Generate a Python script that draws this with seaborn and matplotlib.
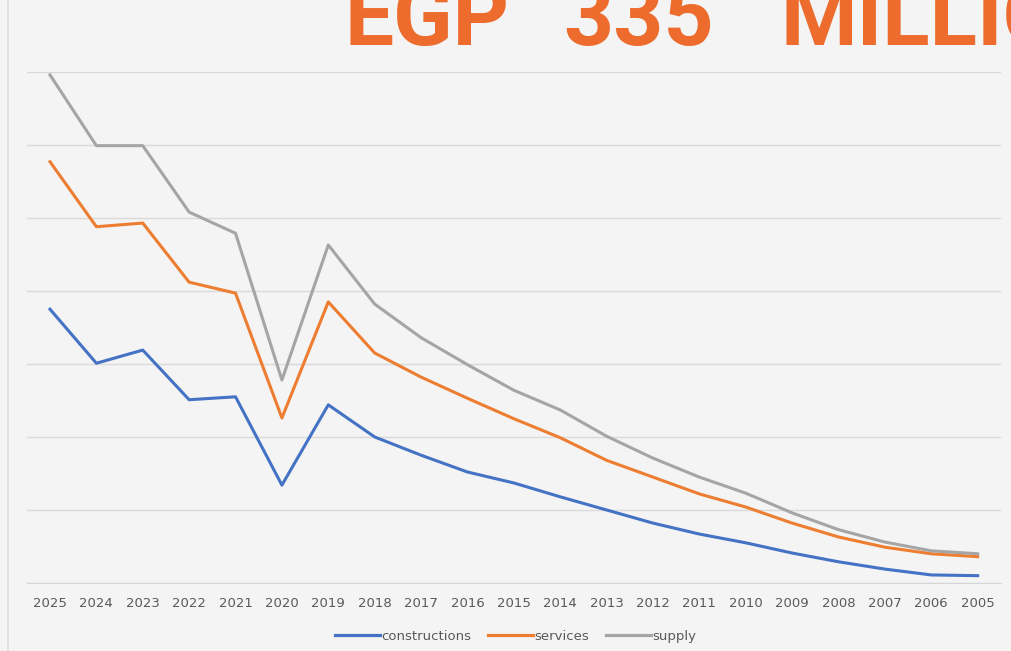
import matplotlib
matplotlib.use("Agg")
import matplotlib.pyplot as plt
import seaborn as sns
import pandas as pd
from matplotlib.lines import Line2D

# ------------------------------------------------------------- #
#                            DATOS                              #
# ------------------------------------------------------------- #

years = ["2025", "2024", "2023", "2022", "2021", "2020", "2019", "2018", "2017", "2016", "2015",
         "2014", "2013", "2012", "2011", "2010", "2009", "2008", "2007", "2006", "2005"]

constructions = [3.75, 3.01, 3.19, 2.51, 2.55, 1.34, 2.44, 2.00, 1.75, 1.52, 1.37,
                 1.18, 1.00, 0.82, 0.67, 0.55, 0.41, 0.29, 0.19, 0.11, 0.10]
services = [5.77, 4.88, 4.93, 4.12, 3.97, 2.26, 3.85, 3.15, 2.82, 2.53, 2.25,
            1.99, 1.68, 1.45, 1.22, 1.04, 0.82, 0.63, 0.49, 0.40, 0.36]
supply = [6.96, 5.99, 5.99, 5.08, 4.79, 2.78, 4.63, 3.82, 3.36, 2.99, 2.64,
          2.37, 2.01, 1.71, 1.45, 1.23, 0.96, 0.73, 0.56, 0.44, 0.40]

series_names = ["constructions", "services", "supply"]
series_colors = ["#4472C4", "#ED7D31", "#A5A5A5"]

# titulo (palabras separadas, con mucho espacio entre ellas)
title_words = ["EGP", "335", "MILLION"]

# tabla larga para seaborn
df = pd.DataFrame({"year": years, "constructions": constructions,
                   "services": services, "supply": supply})
long_df = df.melt(id_vars="year", var_name="series", value_name="value")

# ------------------------------------------------------------- #
#                           GRÁFICO                             #
# ------------------------------------------------------------- #

bg = "#f4f4f4"
fig = plt.figure(figsize=(10.11, 6.51), dpi=100, facecolor=bg)
ax = fig.add_axes([0.0265, 0.1045, 0.9635, 0.785])
ax.set_facecolor(bg)

sns.lineplot(data=long_df, x="year", y="value", hue="series",
             hue_order=series_names, palette=series_colors,
             linewidth=2.2, sort=False, ax=ax, legend=False)

ax.set_xlim(-0.5, len(years) - 0.5)
ax.set_ylim(0, 7)
ax.set_yticks(range(0, 8))
ax.set_yticklabels([])
ax.yaxis.grid(True, color="#dadada", linewidth=1)
ax.set_axisbelow(True)
ax.tick_params(axis="both", length=0)
ax.tick_params(axis="x", labelsize=9.5, labelcolor="#595959", pad=10)
ax.set_xlabel("")
ax.set_ylabel("")
for side in ["top", "right", "left"]:
    ax.spines[side].set_visible(False)
ax.spines["bottom"].set_color("#d6d6d6")

# leyenda inferior
handles = [Line2D([0], [0], color=c, linewidth=2.3) for c in series_colors]
leg = fig.legend(handles, series_names, loc="center", bbox_to_anchor=(0.51, 0.023),
                 ncol=3, frameon=False, handlelength=3.4, handletextpad=0.1,
                 columnspacing=1.3, prop={"size": 9.5})
for t in leg.get_texts():
    t.set_color("#595959")

# borde vertical tenue a la izquierda
fig.add_artist(Line2D([0.008, 0.008], [0, 1], color="#dcdcdc", linewidth=1.2,
                      transform=fig.transFigure))

# titulo grande cortado arriba
for word, x_px in zip(title_words, [345, 563, 781]):
    fig.text(x_px / 1011, 1 - 45 / 651, word, color="#EC6B2D", fontsize=63,
             fontweight="bold", family=["Roboto", "DejaVu Sans"],
             ha="left", va="baseline")

fig.savefig("out.png", dpi=100, facecolor=bg)
